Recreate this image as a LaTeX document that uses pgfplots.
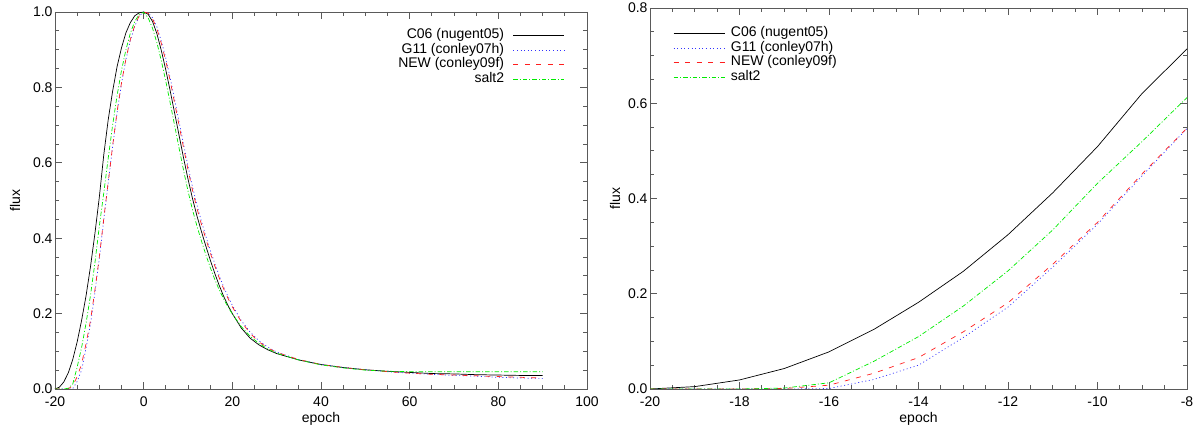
\documentclass[border=0pt]{standalone}
\usepackage{pgfplots}
\pgfplotsset{compat=1.18}
\usepackage{pgfplotstable}
\usepackage{fontspec}
\setmainfont{Liberation Sans}
\definecolor{cblue}{RGB}{50,50,255}
\definecolor{cred}{RGB}{255,30,30}
\definecolor{cgreen}{RGB}{0,235,0}
\definecolor{axgray}{RGB}{90,90,90}

\pgfplotstableread{
x y
-20 0.000
-19 0.005
-18 0.019
-17 0.043
-16 0.078
-15 0.125
-14 0.182
-13 0.247
-12 0.324
-11 0.412
-10 0.509
-9 0.621
-8 0.714
-7 0.790
-6 0.855
-5 0.905
-4 0.945
-3 0.972
-2 0.990
-1 0.998
0 1.000
1 0.994
2 0.975
3 0.942
4 0.897
5 0.846
6 0.790
7 0.731
8 0.672
9 0.613
10 0.557
11 0.506
12 0.460
13 0.419
14 0.380
15 0.343
16 0.308
17 0.276
18 0.247
19 0.222
20 0.200
22 0.162
24 0.135
26 0.117
28 0.104
30 0.094
35 0.077
40 0.065
45 0.057
50 0.051
55 0.047
60 0.044
65 0.041
70 0.040
75 0.038
80 0.037
85 0.036
90 0.036
}\cs

\pgfplotstableread{
x y
-20 0.000
-19 0.000
-18 0.000
-17 0.000
-16 0.001
-15 0.020
-14 0.050
-13 0.108
-12 0.172
-11 0.256
-10 0.346
-9 0.448
-8 0.547
-7 0.643
-6 0.733
-5 0.810
-4 0.874
-3 0.925
-2 0.963
-1 0.989
0 1.000
1 0.998
2 0.985
3 0.960
4 0.922
5 0.877
6 0.824
7 0.767
8 0.708
9 0.649
10 0.591
11 0.537
12 0.489
13 0.446
14 0.406
15 0.369
16 0.334
17 0.302
18 0.272
19 0.246
20 0.222
22 0.182
24 0.151
26 0.128
28 0.111
30 0.098
35 0.078
40 0.065
45 0.057
50 0.051
55 0.046
60 0.042
65 0.039
70 0.036
75 0.034
80 0.031
85 0.029
90 0.028
}\gel

\pgfplotstableread{
x y
-20 0.000
-19 0.000
-18 0.000
-17 0.001
-16 0.008
-15 0.033
-14 0.066
-13 0.120
-12 0.181
-11 0.262
-10 0.350
-9 0.452
-8 0.548
-7 0.645
-6 0.735
-5 0.812
-4 0.876
-3 0.927
-2 0.965
-1 0.990
0 1.000
1 0.997
2 0.982
3 0.955
4 0.916
5 0.870
6 0.816
7 0.758
8 0.699
9 0.640
10 0.582
11 0.528
12 0.480
13 0.438
14 0.399
15 0.362
16 0.328
17 0.296
18 0.267
19 0.241
20 0.218
22 0.179
24 0.148
26 0.125
28 0.109
30 0.097
35 0.078
40 0.065
45 0.057
50 0.051
55 0.046
60 0.042
65 0.039
70 0.037
75 0.035
80 0.033
85 0.031
90 0.029
}\newm

\pgfplotstableread{
x y
-20 0.000
-19 0.000
-18 0.000
-17 0.002
-16 0.013
-15 0.058
-14 0.110
-13 0.174
-12 0.248
-11 0.334
-10 0.432
-9 0.520
-8 0.612
-7 0.700
-6 0.778
-5 0.845
-4 0.900
-3 0.944
-2 0.975
-1 0.994
0 0.999
1 0.985
2 0.957
3 0.918
4 0.870
5 0.816
6 0.758
7 0.698
8 0.638
9 0.580
10 0.525
11 0.476
12 0.433
13 0.394
14 0.357
15 0.323
16 0.292
17 0.264
18 0.240
19 0.218
20 0.199
22 0.166
24 0.140
26 0.121
28 0.106
30 0.095
35 0.077
40 0.064
45 0.056
50 0.050
55 0.047
60 0.046
65 0.046
70 0.046
80 0.046
90 0.046
}\salt

\pgfplotsset{
  base/.style={
    scale only axis,
    axis line style={axgray, line width=0.8pt},
    every tick/.style={axgray, line width=0.8pt},
    major tick length=7pt,
    minor tick length=4pt,
    tick align=inside,
    xtick pos=both, ytick pos=both,
    xticklabel pos=lower, yticklabel pos=left,
    xticklabel style={yshift=-4pt},
    yticklabel style={xshift=1pt},
    every axis x label/.style={at={(axis description cs:0.5,0)}, anchor=center, yshift=-30pt},
    xlabel={epoch}, ylabel={flux},
    legend image code/.code={\draw[##1] (0pt,0pt) -- (51pt,0pt);},
    every axis plot/.append style={line width=0.7pt},
  },
  sC/.style={black, solid},
  sG/.style={cblue, dash pattern=on 1pt off 2.6pt},
  sN/.style={cred, dash pattern=on 5pt off 6.5pt},
  sS/.style={cgreen, dash pattern=on 4.5pt off 2pt on 1pt off 2pt},
}

\begin{document}
\begin{tikzpicture}[font=\fontsize{14}{16}\selectfont]
\path[use as bounding box] (0pt,0pt) rectangle (1199pt,428pt);
\begin{axis}[base,
  at={(55pt,39pt)}, anchor=south west,
  width=532pt, height=377pt,
  xmin=-20, xmax=100, ymin=0, ymax=1,
  xtick={-20,0,20,40,60,80,100},
  xticklabels={-20,0,20,40,60,80,100},
  minor xtick={-15,-10,-5,5,10,15,25,30,35,45,50,55,65,70,75,85,90,95},
  ytick={0,0.2,0.4,0.6,0.8,1},
  yticklabels={0.0,0.2,0.4,0.6,0.8,1.0},
  minor ytick={0.05,0.1,0.15,0.25,0.3,0.35,0.45,0.5,0.55,0.65,0.7,0.75,0.85,0.9,0.95},
  every axis y label/.style={at={(axis description cs:0,0.5)}, xshift=-40pt, rotate=90, anchor=center},
  legend plot pos=right, legend cell align=right,
  legend style={draw=none, fill=none, at={(1,1)}, anchor=north east, xshift=-22pt, yshift=-16pt,
    inner sep=0pt, row sep=0pt, column sep=8pt,
    nodes={inner sep=1pt, text height=9.5pt, text depth=3pt}},
]
\addplot[sC] table {\cs};
\addplot[sG] table {\gel};
\addplot[sN] table {\newm};
\addplot[sS] table {\salt};
\legend{C06 (nugent05),G11 (conley07h),NEW (conley09f),salt2}
\end{axis}

\begin{axis}[base,
  at={(650pt,39pt)}, anchor=south west,
  width=537pt, height=381pt,
  xmin=-20, xmax=-8, ymin=0, ymax=0.8,
  xtick={-20,-18,-16,-14,-12,-10,-8},
  xticklabels={-20,-18,-16,-14,-12,-10,-8},
  minor xtick={-19.5,-19,-18.5,-17.5,-17,-16.5,-15.5,-15,-14.5,-13.5,-13,-12.5,-11.5,-11,-10.5,-9.5,-9,-8.5},
  ytick={0,0.2,0.4,0.6,0.8},
  yticklabels={0.0,0.2,0.4,0.6,0.8},
  minor ytick={0.05,0.1,0.15,0.25,0.3,0.35,0.45,0.5,0.55,0.65,0.7,0.75},
  every axis y label/.style={at={(axis description cs:0,0.5)}, xshift=-35pt, rotate=90, anchor=center},
  legend plot pos=left, legend cell align=left,
  legend style={draw=none, fill=none, at={(0,1)}, anchor=north west, xshift=23pt, yshift=-18pt,
    inner sep=0pt, row sep=0pt, column sep=5pt,
    nodes={inner sep=1pt, text height=9.5pt, text depth=3pt}},
]
\addplot[sC] table {\cs};
\addplot[sG] table {\gel};
\addplot[sN] table {\newm};
\addplot[sS] table {\salt};
\legend{C06 (nugent05),G11 (conley07h),NEW (conley09f),salt2}
\end{axis}
\end{tikzpicture}
\end{document}
